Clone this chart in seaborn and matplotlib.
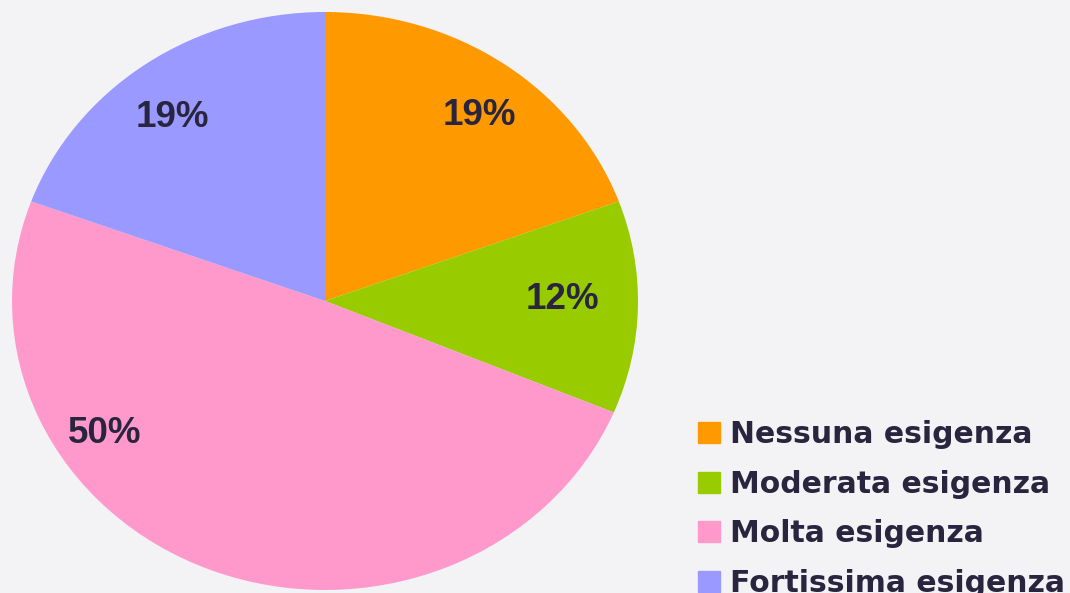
import numpy as np
import matplotlib
matplotlib.use("Agg")
import matplotlib.pyplot as plt
import matplotlib.patches as mpatches
import seaborn as sns

# dati
categorie = ["Nessuna esigenza", "Moderata esigenza", "Molta esigenza", "Fortissima esigenza"]
valori = [19.4, 11.9, 49.3, 19.4]
etichette = ["19%", "12%", "50%", "19%"]
colori = ["#FF9900", "#99CC00", "#FF99CC", "#9999FF"]

# posizione delle etichette (raggio, angolo) come nell'originale
pos_etichette = [(0.81, 52.5), (0.76, 0.5), (0.84, 213), (0.80, 127.5)]

sns.set_theme(style="white")
plt.rcParams['font.family'] = ['Liberation Sans', 'DejaVu Sans']

bg = "#F3F3F6"
testo = "#29253E"

fig = plt.figure(figsize=(10.7, 5.93), dpi=100, facecolor=bg)
ax = fig.add_axes([12 / 1070, 3 / 593, 626 / 1070, 578 / 593])
ax.set_facecolor(bg)

wedges, _, autotexts = ax.pie(
    valori,
    colors=sns.color_palette(colori),
    startangle=90,
    counterclock=False,
    autopct='%1.0f%%',
    pctdistance=0.8,
    wedgeprops=dict(linewidth=0),
)
ax.set_aspect('auto')
ax.set_xlim(-1, 1)
ax.set_ylim(-1, 1)

for t, lab, (r, a) in zip(autotexts, etichette, pos_etichette):
    t.set_text(lab)
    t.set_fontsize(26.5)
    t.set_fontweight('bold')
    t.set_color(testo)
    a = np.deg2rad(a)
    t.set_position((r * np.cos(a), r * np.sin(a)))

handles = [mpatches.Patch(color=c, label=l) for c, l in zip(colori, categorie)]
leg = fig.legend(
    handles=handles,
    loc='upper left',
    bbox_to_anchor=(698 / 1070, 1 - 420 / 593),
    bbox_transform=fig.transFigure,
    frameon=False,
    borderpad=0,
    borderaxespad=0,
    handlelength=0.74,
    handleheight=0.72,
    handletextpad=0.33,
    labelspacing=0.69,
    prop=dict(family='DejaVu Sans', weight='bold', size=21.5),
)
for t in leg.get_texts():
    t.set_color(testo)

fig.savefig("out.png", dpi=100, facecolor=bg)
